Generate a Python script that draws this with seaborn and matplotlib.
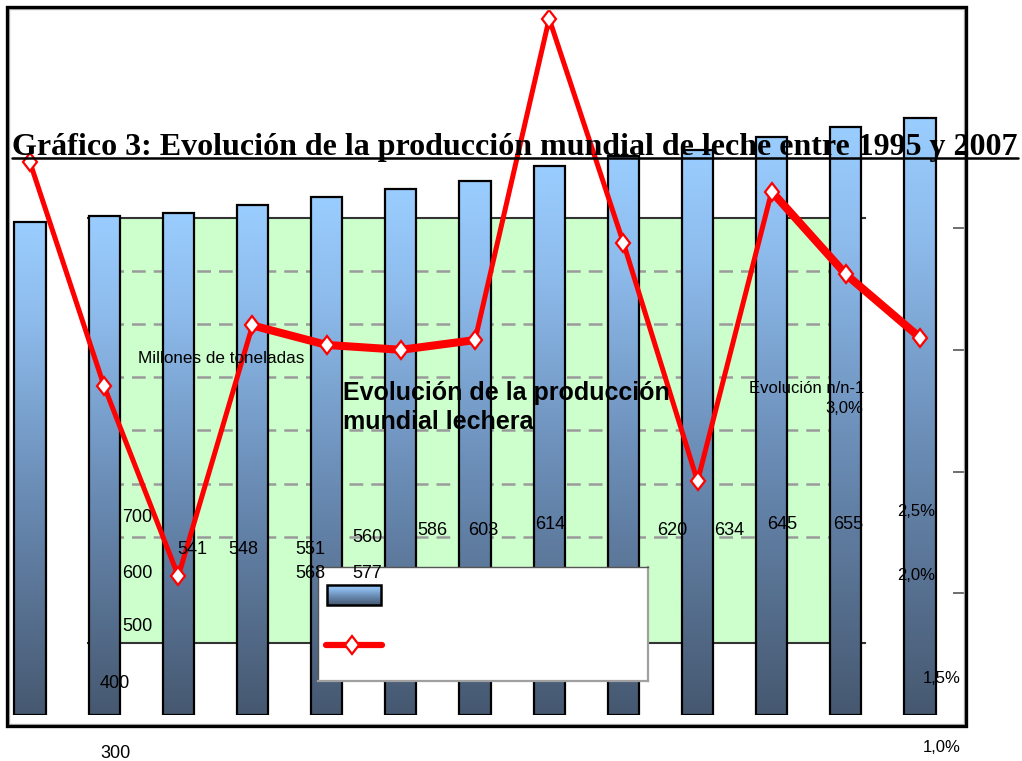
import numpy as np
import pandas as pd
import matplotlib
matplotlib.use("Agg")
import matplotlib.pyplot as plt
import seaborn as sns
from matplotlib.colors import LinearSegmentedColormap
from matplotlib.patches import Rectangle
from matplotlib.lines import Line2D
from matplotlib.markers import MarkerStyle
from matplotlib.transforms import Affine2D

# --- data ---
years = [str(y) for y in range(1995, 2008)]
production = [541, 548, 551, 560, 568, 577, 586, 603, 614, 620, 634, 645, 655]
evolution = [2.27, 1.35, 0.57, 1.60, 1.52, 1.50, 1.54, 2.86, 1.94, 0.96, 2.15, 1.81, 1.55]

# stray axis labels left behind by the broken export
left_axis_labels = ["700", "600", "500", "400", "300"]
pct_labels = ["3,0%", "2,5%", "2,0%", "1,5%", "1,0%"]

TITLE = "Gráfico 3: Evolución de la producción mundial de leche entre 1995 y 2007"
INNER_TITLE = ["Evolución de la producción", "mundial lechera"]

sns.set_style("white")
plt.rcParams['font.family'] = ['Liberation Sans', 'DejaVu Sans']
plt.rcParams['text.color'] = 'black'

W, H = 1022, 761


def diamond():
    # a diamond a little wider than matplotlib's "d"
    return MarkerStyle("D", transform=Affine2D().scale(0.75, 1.0))


def fx(x):
    return x / W


def fy(y):
    return 1 - y / H


df = pd.DataFrame({"year": years, "production": production, "evolution": evolution})
df["pos"] = np.arange(len(df))

bar_cmap = LinearSegmentedColormap.from_list(
    "milk", [(0.0, "#465870"), (0.45, "#6a8cb5"), (0.8, "#8dbbec"), (1.0, "#9acdff")])
grad = np.linspace(0, 1, 256).reshape(-1, 1)

fig = plt.figure(figsize=(10.22, 7.61), dpi=100)

# --- inner green plot area (the original embedded chart) ---
ax_in = fig.add_axes([fx(88), fy(643), (865 - 88) / W, (643 - 218) / H])
ax_in.set_facecolor("none")
ax_in.add_patch(Rectangle((0, 0), 0.97, 1, transform=ax_in.transAxes,
                          color="#ccffcc", zorder=0))
ax_in.set_xlim(0, 13)
ax_in.set_ylim(0, 800)
for v in range(200, 800, 100):
    ax_in.axhline(v, xmin=0, xmax=0.97, color="#9a9a9a", lw=1.8,
                  ls=(0, (5.5, 3.2)), zorder=1)
ax_in.set_yticks(range(0, 900, 100))
ax_in.set_xticks(range(1, 13))
ax_in.set_yticklabels([])
ax_in.set_xticklabels([])
ax_in.tick_params(axis="y", direction="out", length=4, width=1.2, color="#333333")
ax_in.tick_params(axis="x", direction="out", length=3, width=1.2, color="#333333")
for side in ["left", "right"]:
    ax_in.spines[side].set_visible(False)
for side in ["top", "bottom"]:
    ax_in.spines[side].set_color("#333333")
    ax_in.spines[side].set_linewidth(1.5)

# --- bars ---
ax = fig.add_axes([fx(7), fy(715), (966 - 7) / W, (715 - 7) / H])
ax.set_facecolor("none")
sns.barplot(data=df, x="year", y="production", color="#7fa6d0", width=0.42,
            edgecolor="black", linewidth=1.6, ax=ax)
for p in ax.patches:
    x0, y0 = p.get_x(), p.get_y()
    x1, y1 = x0 + p.get_width(), y0 + p.get_height()
    im = ax.imshow(grad, extent=[x0, x1, y0, y1], origin="lower", aspect="auto",
                   cmap=bar_cmap, zorder=p.get_zorder() - 0.5)
    im.set_clip_path(p)
    p.set_facecolor("none")
ax.set_xlim(-0.31, 12.62)
ax.set_ylim(0, 777)
ax.set_xlabel("")
ax.set_ylabel("")
ax.set_xticks([])
ax.set_yticks([])
for s in ax.spines.values():
    s.set_visible(False)

# --- evolution line on the right axis ---
ax2 = ax.twinx()
ax2.set_facecolor("none")
thick_a = df.iloc[3:7]
thick_b = df.iloc[10:13]
for part in (thick_a, thick_b):
    sns.lineplot(data=part, x="pos", y="evolution", color="red", lw=5.8,
                 ax=ax2, legend=False)
sns.lineplot(data=df, x="pos", y="evolution", color="red", lw=3.6, marker=diamond(),
             markersize=9, markerfacecolor="white", markeredgecolor="red",
             markeredgewidth=1.6, ax=ax2, legend=False)
ax2.set_xlim(-0.31, 12.62)
ax2.set_ylim(0, 2.908)
ax2.set_yticks([0.5, 1.0, 1.5, 2.0])
ax2.set_yticklabels([])
ax2.tick_params(axis="y", right=True, left=False, direction="in", length=9.5,
                width=1.2, color="#555555")
ax2.set_xlabel("")
ax2.set_ylabel("")
for s in ax2.spines.values():
    s.set_visible(False)

# --- empty legend box ---
ax_leg = fig.add_axes([fx(318), fy(681), (648 - 318) / W, (681 - 567) / H])
ax_leg.set_facecolor("white")
ax_leg.set_xlim(0, 330)
ax_leg.set_ylim(114, 0)
ax_leg.set_xticks([])
ax_leg.set_yticks([])
for side in ["left", "top"]:
    ax_leg.spines[side].set_color("#555555")
    ax_leg.spines[side].set_linewidth(1.0)
for side in ["right", "bottom"]:
    ax_leg.spines[side].set_color("#a0a0a0")
    ax_leg.spines[side].set_linewidth(1.6)
swatch = Rectangle((9, 18), 54, 20, fc="none", ec="black", lw=1.8, zorder=3)
ax_leg.add_patch(swatch)
sim = ax_leg.imshow(grad, extent=[9, 63, 38, 18], origin="lower", aspect="auto",
                    cmap=bar_cmap, zorder=2)
sim.set_clip_path(swatch)
ax_leg.set_xlim(0, 330)
ax_leg.set_ylim(114, 0)
ax_leg.add_line(Line2D([8, 64], [78, 78], color="red", lw=4.5,
                       solid_capstyle="round"))
ax_leg.add_line(Line2D([34], [78], color="red", marker=diamond(), markersize=9,
                       markerfacecolor="white", markeredgecolor="red",
                       markeredgewidth=1.6))

# --- outer frame ---
fig.add_artist(Rectangle((fx(9), fy(724)), (964 - 9) / W, (724 - 9) / H,
                         transform=fig.transFigure, fill=False, lw=1.0,
                         ec="#bbbbbb"))
fig.add_artist(Rectangle((fx(7), fy(726)), (966 - 7) / W, (726 - 7) / H,
                         transform=fig.transFigure, fill=False, lw=2.4,
                         ec="black"))

# --- texts ---
title = fig.text(fx(12), fy(155), TITLE, family=["Liberation Serif", "DejaVu Serif"],
                 weight="bold", fontsize=24, ha="left", va="baseline")
renderer = fig.canvas.get_renderer()
bb = title.get_window_extent(renderer)
title.set_fontsize(24 * (1004 / bb.width))
bb = title.get_window_extent(renderer)
fig.add_artist(Line2D([bb.x0 / W, bb.x1 / W], [fy(158), fy(158)],
                      transform=fig.transFigure, color="black", lw=1.8))

fig.text(fx(138), fy(363), "Millones de toneladas", fontsize=12.3, ha="left",
         va="baseline")
fig.text(fx(343), fy(400), INNER_TITLE[0], fontsize=18, weight="bold",
         ha="left", va="baseline")
fig.text(fx(343), fy(429), INNER_TITLE[1], fontsize=18, weight="bold",
         ha="left", va="baseline")
fig.text(fx(749), fy(393), "Evolución n/n-1", fontsize=12, ha="left",
         va="baseline")

# left-axis numbers, scattered
left_pos = [(122, 522), (122, 578), (122, 631), (100, 688), (100, 758)]
for lab, (x, y) in zip(left_axis_labels, left_pos):
    fig.text(fx(x), fy(y), lab, fontsize=13, ha="left", va="baseline")

# percentage labels
pct_pos = [(863, 413, "right"), (897, 516, "left"), (897, 580, "left"),
           (923, 683, "left"), (923, 752, "left")]
for lab, (x, y, ha) in zip(pct_labels, pct_pos):
    fig.text(fx(x), fy(y), lab, fontsize=12, ha=ha, va="baseline")

# data labels for production
val_pos = [(177, 554), (228, 554), (295, 554), (352, 542), (295, 578),
           (352, 578), (417, 535), (468, 535), (535, 529), (657, 535),
           (714, 535), (767, 529), (833, 529)]
for v, (x, y) in zip(production, val_pos):
    fig.text(fx(x), fy(y), str(v), fontsize=13, ha="left", va="baseline")

fig.savefig("out.png", dpi=100)
